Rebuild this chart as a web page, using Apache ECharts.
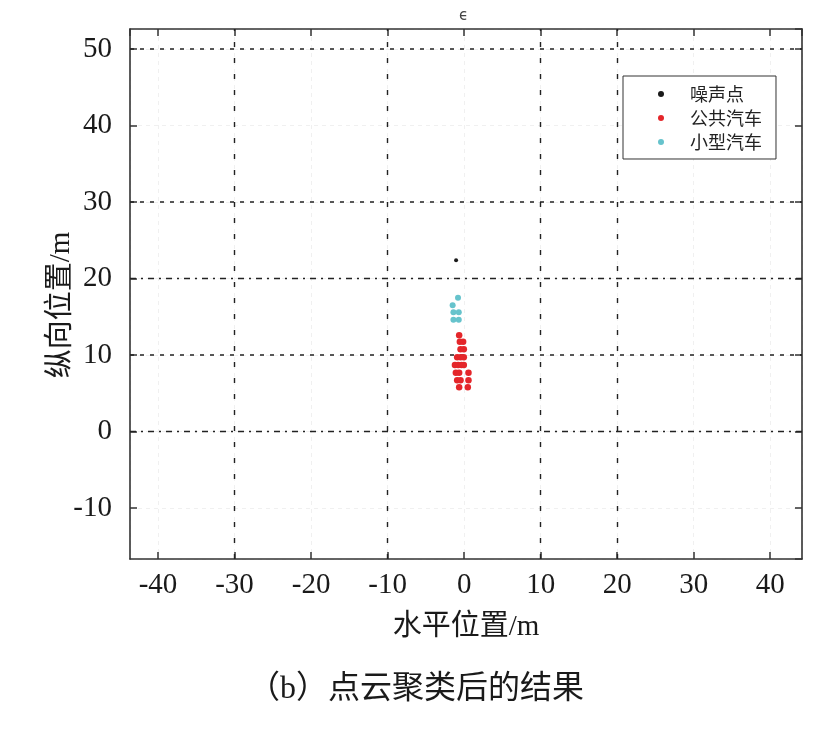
<!DOCTYPE html>
<html>
<head>
<meta charset="utf-8">
<script src="https://cdn.jsdelivr.net/npm/echarts@6/dist/echarts.min.js"></script>
<style>html,body{margin:0;padding:0;background:#fff;}#c{width:838px;height:730px;}</style>
</head>
<body>
<div id="c"></div>
<script>
const seriesNames = ['噪声点', '公共汽车', '小型汽车'];
const noisePoints = [[-1.05, 22.4]];
const busPoints = [
  [-0.65, 12.6], [-0.56, 11.75], [-0.13, 11.75], [-0.47, 10.75], [-0.04, 10.75],
  [-0.91, 9.7], [-0.47, 9.7], [-0.04, 9.7],
  [-1.2, 8.7], [-0.78, 8.7], [-0.34, 8.7], [-0.04, 8.7],
  [-1.08, 7.7], [-0.65, 7.7], [0.57, 7.7],
  [-0.91, 6.7], [-0.47, 6.7], [0.57, 6.7],
  [-0.65, 5.8], [0.48, 5.8]
];
const carPoints = [[-0.8, 17.5], [-1.5, 16.5], [-1.4, 15.6], [-0.7, 15.6], [-1.4, 14.6], [-0.7, 14.6]];
const xRange = [-43.66, 44.15];
const yRange = [-16.65, 52.6];
const darkGridY = [50, 30, 10];
const dashDotGridY = [20, 0];
const darkGridX = [-30, -10, 10, 20];
const xAxisTitle = '水平位置/m';
const yAxisTitle = '纵向位置/m';
const topTitle = 'ϵ';
const caption = '（b）点云聚类后的结果';

const serif = "'Liberation Serif', 'Noto Sans CJK SC'";
const fmt = v => (Math.abs(v % 10) < 1e-6 ? String(Math.round(v)) : '');
const frame = { show: true, onZero: false, lineStyle: { color: '#333', width: 1.6 } };
const tick = { show: true, inside: true, length: 7, lineStyle: { color: '#333', width: 1.5 } };
const lightGrid = { show: true, lineStyle: { color: '#f0f0f0', width: 1, type: [4, 4] } };

const markData = [];
darkGridY.forEach(v => markData.push({ yAxis: v, lineStyle: { color: '#222', width: 1.5, type: [4, 6] } }));
dashDotGridY.forEach(v => markData.push({ yAxis: v, lineStyle: { color: '#222', width: 1.3, type: [6, 5, 2, 5] } }));
darkGridX.forEach(v => markData.push({ xAxis: v, lineStyle: { color: '#222', width: 1.4, type: [5, 11] } }));

const chart = echarts.init(document.getElementById('c'));
chart.setOption({
  animation: false,
  backgroundColor: '#fff',
  grid: { left: 130, right: 36, top: 29, bottom: 171, containLabel: false },
  xAxis: [
    {
      type: 'value', position: 'bottom', min: xRange[0], max: xRange[1], splitNumber: 9,
      axisLine: frame, axisTick: tick, splitLine: lightGrid,
      axisLabel: { formatter: fmt, showMinLabel: false, showMaxLabel: false, margin: 12,
        fontFamily: serif, fontSize: 29, color: '#1a1a1a' },
      name: xAxisTitle, nameLocation: 'middle', nameGap: 54, nameMoveOverlap: false,
      nameTextStyle: { fontFamily: serif, fontSize: 29, color: '#1a1a1a' }
    },
    {
      type: 'value', position: 'top', min: xRange[0], max: xRange[1], splitNumber: 9,
      axisLine: frame, axisTick: tick, splitLine: { show: false }, axisLabel: { show: false }
    }
  ],
  yAxis: [
    {
      type: 'value', position: 'left', min: yRange[0], max: yRange[1], splitNumber: 7,
      axisLine: frame, axisTick: tick, splitLine: lightGrid,
      axisLabel: { formatter: fmt, showMinLabel: false, showMaxLabel: false, margin: 18,
        fontFamily: serif, fontSize: 29, color: '#1a1a1a' },
      name: yAxisTitle, nameLocation: 'middle', nameGap: 54, nameMoveOverlap: false,
      nameTextStyle: { fontFamily: serif, fontSize: 29, color: '#1a1a1a', padding: [0, 22, 0, 0] }
    },
    {
      type: 'value', position: 'right', min: yRange[0], max: yRange[1], splitNumber: 7,
      axisLine: frame, axisTick: tick, splitLine: { show: false }, axisLabel: { show: false }
    }
  ],
  legend: {
    orient: 'vertical', left: 623, top: 76,
    data: seriesNames,
    itemWidth: 48, itemHeight: 6, itemGap: 6,
    padding: [9, 14, 8, 35],
    borderColor: '#333', borderWidth: 1, backgroundColor: '#fff',
    textStyle: { fontFamily: "'Noto Sans CJK SC'", fontSize: 18, color: '#222' }
  },
  graphic: [
    { type: 'text', left: 459, top: 9, style: { text: topTitle, font: "15px 'DejaVu Sans'", fill: '#444' } },
    { type: 'text', x: 416, y: 690, style: { text: caption, font: "32px " + serif, fill: '#1a1a1a',
      textAlign: 'center', textVerticalAlign: 'middle' } }
  ],
  series: [
    {
      name: seriesNames[0], type: 'scatter', data: noisePoints, symbolSize: 4,
      itemStyle: { color: '#1a1a1a', opacity: 1 },
      markLine: { silent: true, symbol: 'none', label: { show: false }, z: 1, data: markData, animation: false },
      z: 5
    },
    { name: seriesNames[1], type: 'scatter', data: busPoints, symbolSize: 6.5, itemStyle: { color: '#e4262a', opacity: 1 }, z: 5 },
    { name: seriesNames[2], type: 'scatter', data: carPoints, symbolSize: 6, itemStyle: { color: '#66c3cc', opacity: 1 }, z: 5 }
  ]
});
</script>
</body>
</html>
